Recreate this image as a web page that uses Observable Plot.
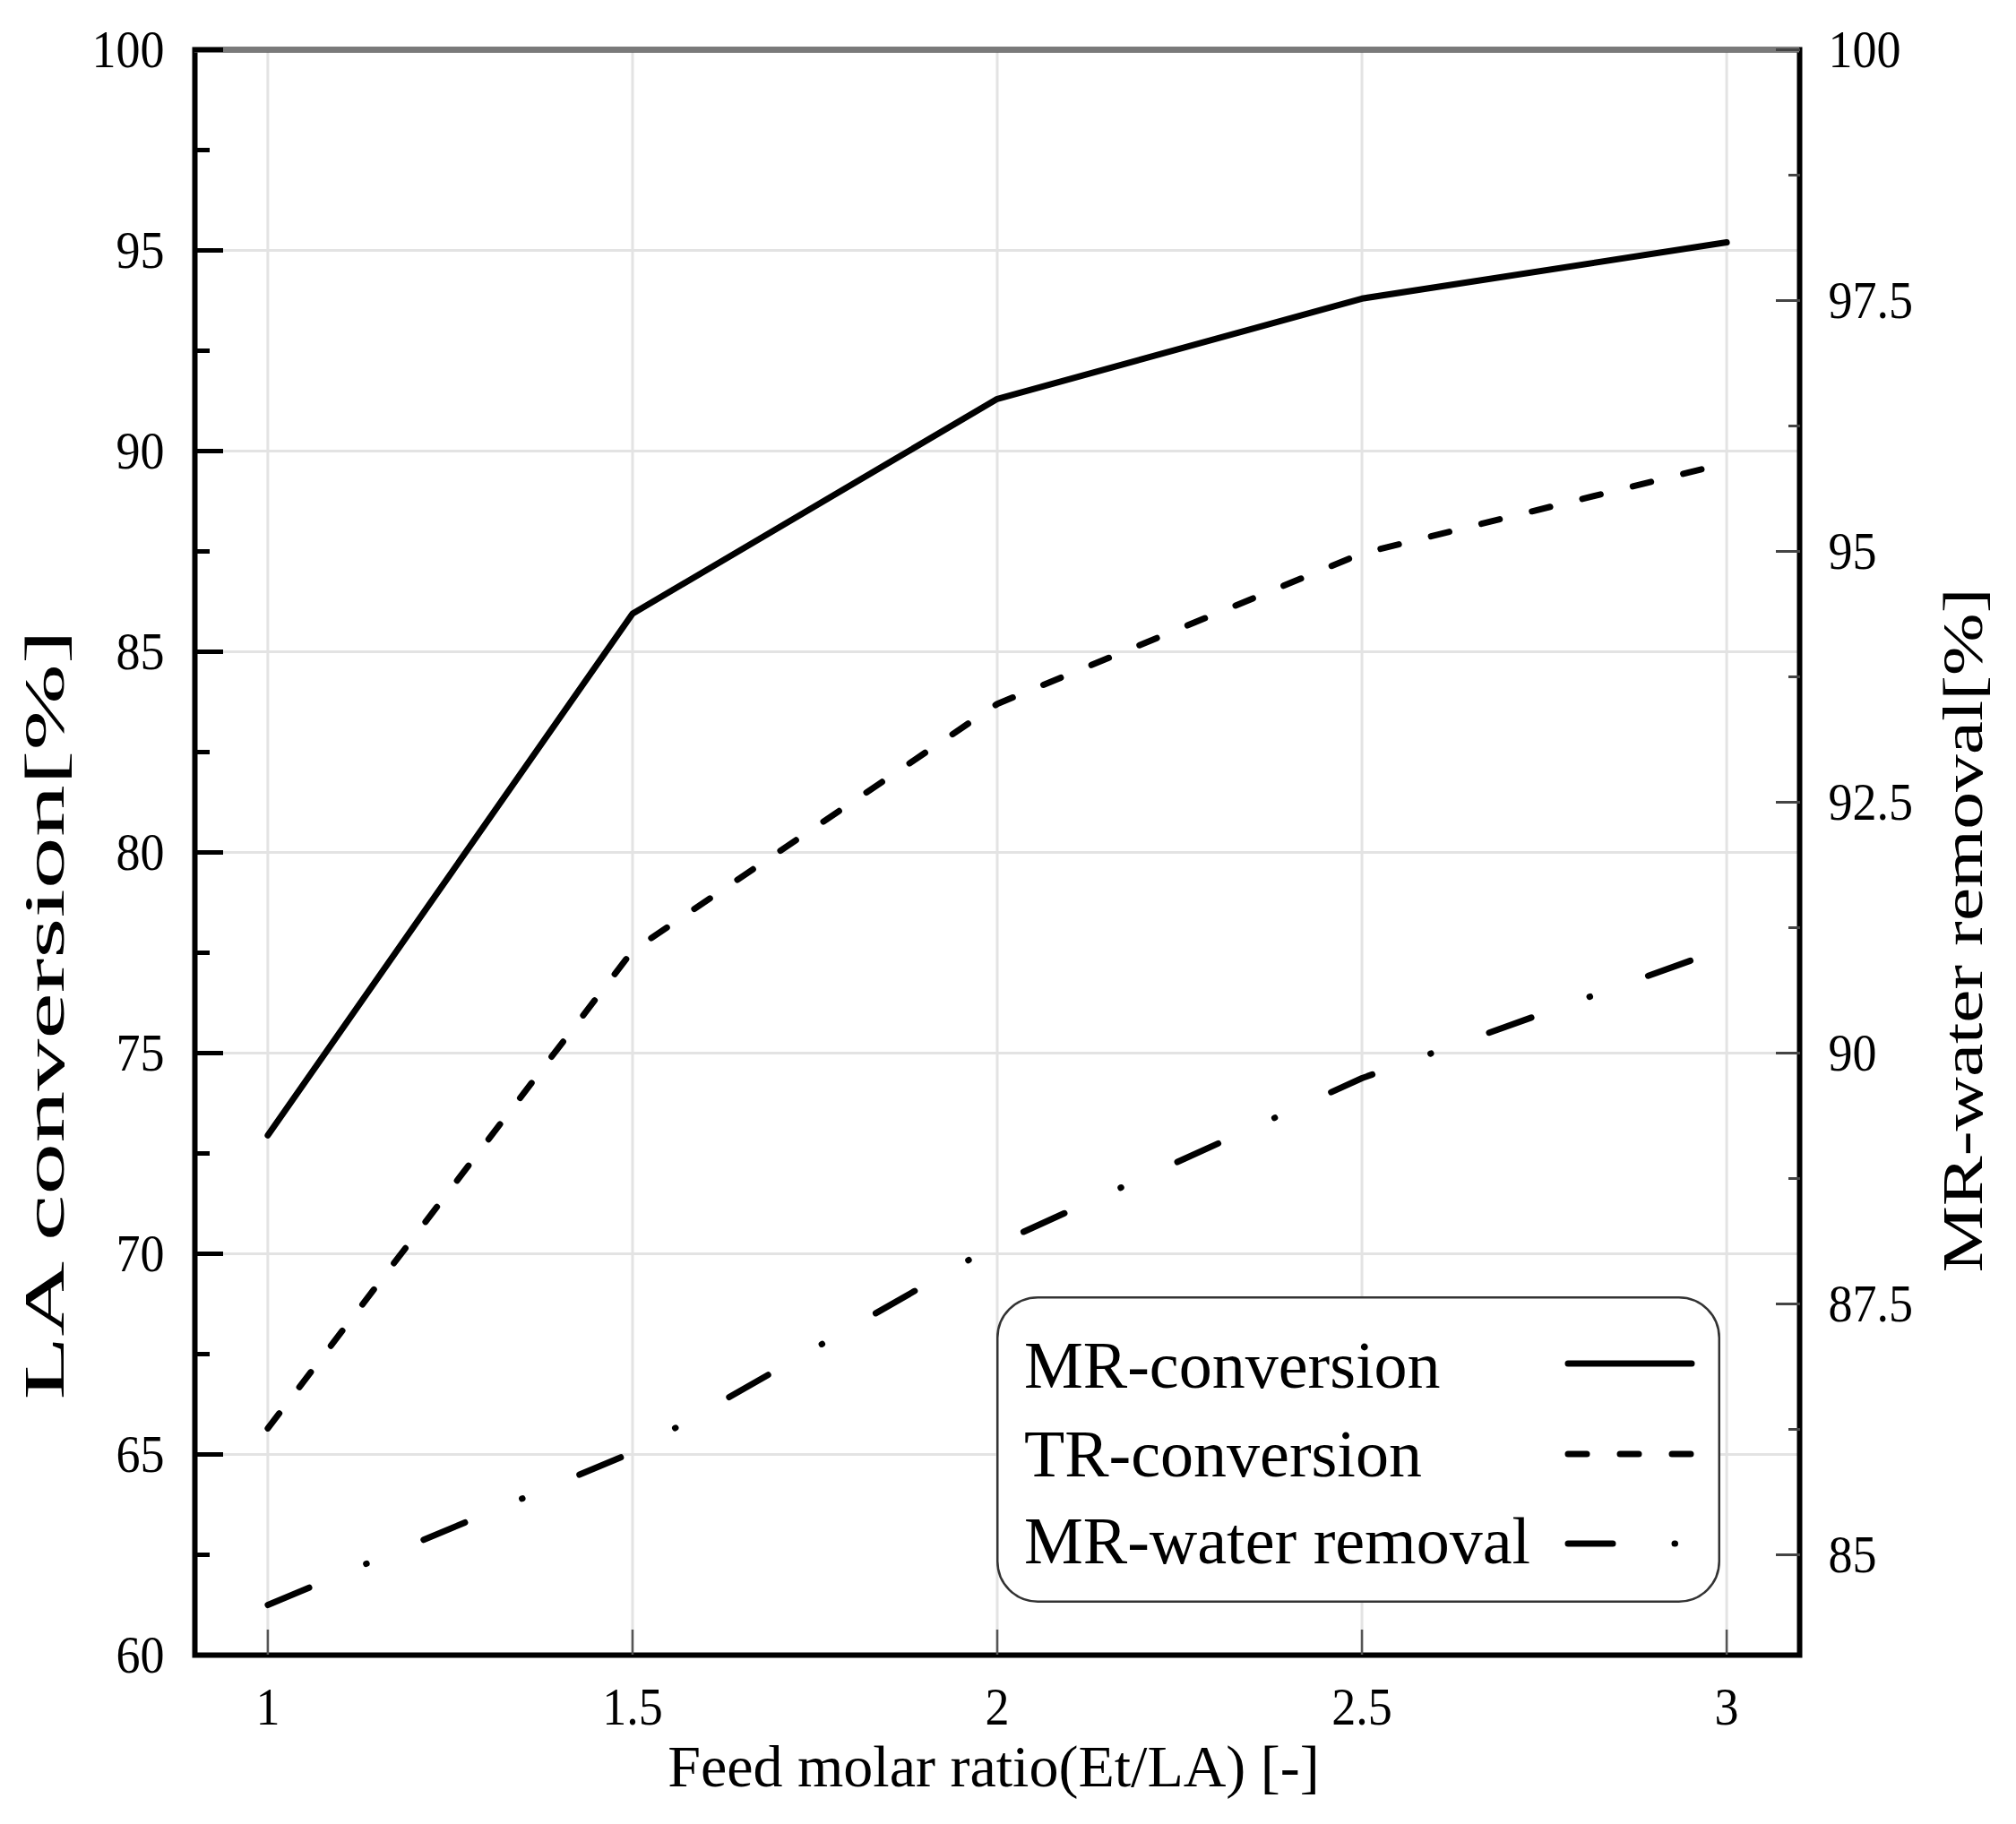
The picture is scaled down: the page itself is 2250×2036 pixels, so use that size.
<!DOCTYPE html>
<html><head><meta charset="utf-8">
<script src="https://cdn.jsdelivr.net/npm/d3@7"></script>
<script src="https://cdn.jsdelivr.net/npm/@observablehq/plot@0.6"></script>
<style>
html,body{margin:0;padding:0;background:#fff;}
#wrap{position:relative;width:2250px;height:2036px;}
#legend{position:absolute;left:1112px;top:1447px;}
</style></head><body><div id="wrap"></div>
<script>
// ---- data ----
const ratio = [1, 1.5, 2, 2.5, 3];
const mrConversion = [72.95, 85.95, 91.3, 93.8, 95.2];
const trConversion = [65.65, 77.55, 83.7, 87.45, 89.7];
const mrWaterRemoval = [84.5, 86.02, 88.1, 89.75, 91.05];

const xTicks = [1, 1.5, 2, 2.5, 3];
const leftTicks = [60, 65, 70, 75, 80, 85, 90, 95, 100];
const leftMinorTicks = [62.5, 67.5, 72.5, 77.5, 82.5, 87.5, 92.5, 97.5];
const rightTicks = [85, 87.5, 90, 92.5, 95, 97.5, 100];
const rightMinorTicks = [86.25, 88.75, 91.25, 93.75, 96.25, 98.75];
const leftDomain = [60, 100];
const rightDomain = [84, 100];

const xTitle = "Feed molar ratio(Et/LA) [-]";
const leftTitle = "LA conversion[%]";
const rightTitle = "MR-water removal[%]";
const legendLabels = ["MR-conversion", "TR-conversion", "MR-water removal"];

// map right-axis values onto the left scale
const k = (leftDomain[1] - leftDomain[0]) / (rightDomain[1] - rightDomain[0]);
const toLeft = v => leftDomain[0] + (v - rightDomain[0]) * k;
const fromLeft = v => rightDomain[0] + (v - leftDomain[0]) / k;

const rows = ratio.map((r, i) => ({ratio: r, mr: mrConversion[i], tr: trConversion[i], water: mrWaterRemoval[i]}));

const FONT = "'Liberation Serif', 'Times New Roman', serif";
const SOLID = null, DASH = "21,37", DASHDOT = "50,69,0.5,69";
const TICKFONT = 60;

const plot = Plot.plot({
  width: 2250, height: 2036,
  marginLeft: 217, marginRight: 242, marginTop: 55, marginBottom: 189,
  style: {fontFamily: FONT, fontSize: TICKFONT + "px", background: "white", color: "black"},
  x: {domain: [0.9, 3.1]},
  y: {domain: leftDomain},
  marks: [
    Plot.gridY(leftTicks, {stroke: "#e3e3e3", strokeOpacity: 1, strokeWidth: 3}),
    Plot.gridX(xTicks, {stroke: "#e3e3e3", strokeOpacity: 1, strokeWidth: 3}),
    Plot.frame({stroke: "black", strokeWidth: 6}),
    Plot.ruleY([leftDomain[1]], {stroke: "#7a7a7a", strokeWidth: 6}),
    Plot.line(rows, {x: "ratio", y: "mr", stroke: "black", strokeWidth: 7}),
    Plot.line(rows, {x: "ratio", y: "tr", stroke: "black", strokeWidth: 7, strokeDasharray: DASH}),
    Plot.line(rows, {x: "ratio", y: d => toLeft(d.water), stroke: "black", strokeWidth: 7, strokeDasharray: DASHDOT}),
    // x axis
    Plot.axisX(xTicks, {anchor: "bottom", tickSize: -28, stroke: "#555", strokeWidth: 2.5, fill: "none", label: null}),
    Plot.axisX(xTicks, {anchor: "bottom", tickSize: 0, tickPadding: 35, tickFormat: d => String(d), label: null}),
    // left axis
    Plot.axisY(leftTicks, {anchor: "left", tickSize: -32, stroke: "black", strokeWidth: 5, fill: "none", label: null}),
    Plot.axisY(leftMinorTicks, {anchor: "left", tickSize: -17, stroke: "black", strokeWidth: 5, fill: "none", label: null}),
    Plot.axisY(leftTicks, {anchor: "left", tickSize: 0, tickPadding: 34, tickFormat: d => String(d), label: null}),
    // right axis
    Plot.axisY(rightTicks.map(toLeft), {anchor: "right", tickSize: -27, stroke: "#444", strokeWidth: 3, fill: "none", label: null}),
    Plot.axisY(rightMinorTicks.map(toLeft), {anchor: "right", tickSize: -13, stroke: "#444", strokeWidth: 3, fill: "none", label: null}),
    Plot.axisY(rightTicks.map(toLeft), {anchor: "right", tickSize: 0, tickPadding: 32, tickFormat: d => String(+fromLeft(d).toFixed(3)), label: null}),
    // titles
    Plot.text([xTitle], {frameAnchor: "bottom", dx: -4, dy: 146, fontSize: 66, text: d => d, fill: "black"}),
    Plot.text([leftTitle], {frameAnchor: "left", textAnchor: "start", dx: -167, dy: 611, rotate: -90, fontSize: 64, text: d => d, fill: "black"}),
    Plot.text([rightTitle], {frameAnchor: "right", textAnchor: "start", dx: 183, dy: 469, rotate: -90, fontSize: 64, text: d => d, fill: "black"})
  ]
});

// stretch the axis titles along their length as in the reference
plot.querySelectorAll("text").forEach(t => {
  if (t.textContent === leftTitle) { t.setAttribute("textLength", 860); t.setAttribute("lengthAdjust", "spacingAndGlyphs"); }
  if (t.textContent === rightTitle) { t.setAttribute("textLength", 764); t.setAttribute("lengthAdjust", "spacingAndGlyphs"); }
});

const wrap = document.getElementById("wrap");
wrap.appendChild(plot);

// tick labels in the reference are slightly narrow (taller than wide)
plot.querySelectorAll('g[aria-label$="tick label"] text').forEach(t => {
  const w = t.getComputedTextLength();
  if (w > 0) { t.setAttribute("textLength", (w * 0.9).toFixed(1)); t.setAttribute("lengthAdjust", "spacingAndGlyphs"); }
});

// ---- legend ----
const LW = 808, LH = 342;
const legend = d3.select(wrap).append("svg").attr("id", "legend")
  .attr("width", LW).attr("height", LH).style("font-family", FONT);
legend.append("rect").attr("x", 1.25).attr("y", 1.25).attr("width", LW - 2.5).attr("height", LH - 2.5)
  .attr("rx", 45).attr("fill", "white").attr("stroke", "#333").attr("stroke-width", 2.5);
const styles = [SOLID, DASH, DASHDOT];
const textY = [102, 201, 298], lineY = [75, 176, 276];
legendLabels.forEach((lab, i) => {
  legend.append("text").attr("x", 31).attr("y", textY[i]).attr("font-size", 74).attr("fill", "black").text(lab);
  const ln = legend.append("line").attr("x1", 638).attr("x2", 776).attr("y1", lineY[i]).attr("y2", lineY[i])
    .attr("stroke", "black").attr("stroke-width", 7).attr("stroke-linecap", "round");
  if (styles[i]) ln.attr("stroke-dasharray", styles[i]);
});
</script>
</body></html>
